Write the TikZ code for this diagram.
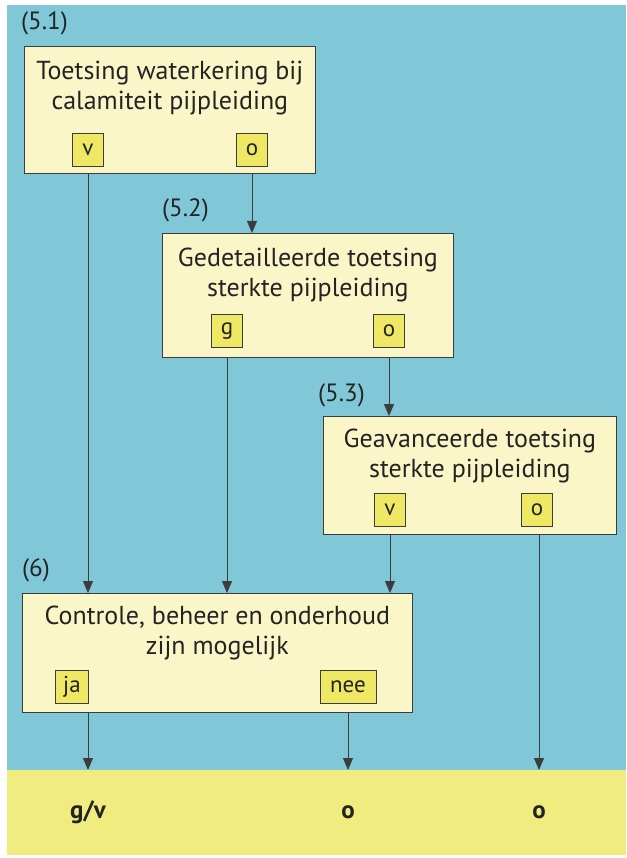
\documentclass[tikz,border=0pt]{standalone}
\usepackage{fontspec}
\setmainfont{PT Sans}
\usetikzlibrary{arrows.meta,positioning}
\definecolor{BackClr}{RGB}{128,200,216}
\definecolor{BandClr}{RGB}{241,236,128}
\definecolor{BoxClr}{RGB}{250,246,200}
\definecolor{KeyClr}{RGB}{238,232,100}
\definecolor{LineClr}{RGB}{60,60,60}
\definecolor{TextClr}{RGB}{35,35,35}

\begin{document}
\begin{tikzpicture}[x=1pt,y=-1pt,
  stepbox/.style={draw=LineClr,line width=0.8pt,fill=BoxClr,anchor=north west,inner sep=0pt},
  keybox/.style={draw=LineClr,line width=0.6pt,fill=KeyClr,minimum height=33pt,minimum width=31pt,inner sep=2pt,text=TextClr,font=\fontsize{23}{23}\selectfont},
  title/.style={align=center,text=TextClr,inner sep=0pt,font=\fontsize{26}{30}\selectfont},
  steplabel/.style={text=TextClr,inner sep=0pt,font=\fontsize{25}{25}\selectfont},
  result/.style={text=TextClr,font=\bfseries\fontsize{25}{25}\selectfont},
  flow/.style={draw=LineClr,line width=0.8pt,-{Triangle[length=12pt,width=10pt]}}]

\useasboundingbox (0,0) rectangle (626,858);
\fill[white] (0,0) rectangle (626,858);
\fill[BackClr] (7,5) rectangle (626,770);
\fill[BandClr] (7,770) rectangle (626,855);
\coordinate (bandtop) at (0,770);

% steps
\node[stepbox,minimum width=291pt,minimum height=127pt] (s51) at (24,46) {};
\node[stepbox,minimum width=291pt,minimum height=124pt] (s52) at (162,233) {};
\node[stepbox,minimum width=293pt,minimum height=118pt] (s53) at (323,416) {};
\node[stepbox,minimum width=390pt,minimum height=119pt] (s6) at (22,593) {};

\node[title,below=15pt of s51.north] (t51) {Toetsing waterkering bij\\calamiteit pijpleiding};
\node[title,below=15pt of s52.north] (t52) {Gedetailleerde toetsing\\sterkte pijpleiding};
\node[title,below=13pt of s53.north] (t53) {Geavanceerde toetsing\\sterkte pijpleiding};
\node[title,below=13pt of s6.north] (t6) {Controle, beheer en onderhoud\\zijn mogelijk};

\node[steplabel,above right=11pt and -3pt of s51.north west] (l51) {(5.1)};
\node[steplabel,above right=11pt and 0pt of s52.north west] (l52) {(5.2)};
\node[steplabel,above right=9pt and -5pt of s53.north west] (l53) {(5.3)};
\node[steplabel,above right=11pt and 0pt of s6.north west] (l6) {(6)};

% outcomes
\node[keybox] (k51v) at (88,150) {v};
\node[keybox] (k51o) at (252,150) {o};
\node[keybox] (k52g) at (227,331) {g};
\node[keybox] (k52o) at (389,331) {o};
\node[keybox] (k53v) at (390,510) {v};
\node[keybox] (k53o) at (537,510) {o};
\node[keybox,minimum width=33pt] (k6ja) at (72,687) {ja};
\node[keybox,minimum width=56pt] (k6nee) at (348,687) {nee};

\node[result] (r1) at (88,812) {g/v};
\node[result] (r2) at (348,812) {o};
\node[result] (r3) at (539,812) {o};

% flow
\draw[flow] (k51v |- s51.south) -- (k51v |- s6.north);
\draw[flow] (k51o |- s51.south) -- (k51o |- s52.north);
\draw[flow] (k52g |- s52.south) -- (k52g |- s6.north);
\draw[flow] (k52o |- s52.south) -- (k52o |- s53.north);
\draw[flow] (k53v |- s53.south) -- (k53v |- s6.north);
\draw[flow] (r3 |- s53.south) -- (r3 |- bandtop);
\draw[flow] (r1 |- s6.south) -- (r1 |- bandtop);
\draw[flow] (k6nee |- s6.south) -- (k6nee |- bandtop);

\end{tikzpicture}
\end{document}
